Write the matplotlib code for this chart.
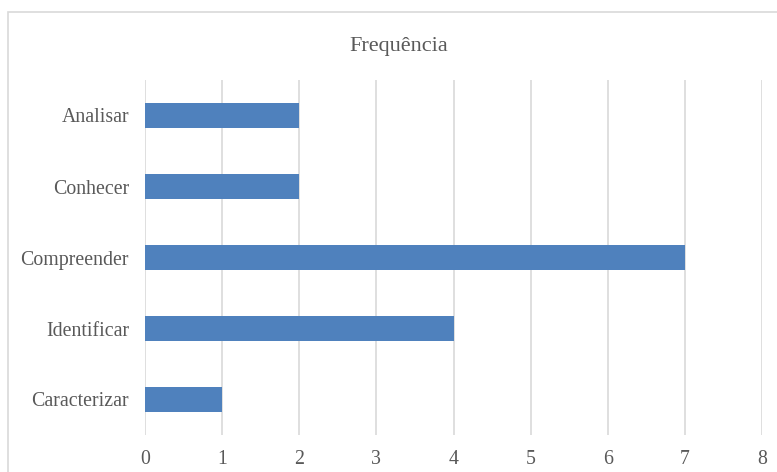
import matplotlib.pyplot as plt
from matplotlib.patches import Rectangle

categorias = ['Caracterizar', 'Identificar', 'Compreender', 'Conhecer', 'Analisar']
frequencia = [1, 4, 7, 2, 2]

plt.rcParams['font.family'] = ['Liberation Serif', 'DejaVu Serif']

W, H = 777, 472
fig = plt.figure(figsize=(W / 100, H / 100), dpi=100)
ax = fig.add_axes([145 / W, 1 - 435 / H, (762 - 145) / W, (435 - 80) / H])

ax.barh(categorias, frequencia, height=0.34, color='#4F81BD', zorder=3)
ax.set_xlim(0, 8)
ax.set_ylim(-0.5, len(categorias) - 0.5)
ax.set_xticks(range(0, 9))
ax.grid(axis='x', color='#D9D9D9', linewidth=1.2, zorder=0)
for s in ax.spines.values():
    s.set_visible(False)
ax.tick_params(length=0, labelsize=14.3, colors='#595959')
ax.tick_params(axis='y', pad=11.5)
ax.tick_params(axis='x', pad=11)

fig.text(398.5 / W, 1 - 51 / H, 'Frequência', ha='center', va='baseline',
         fontsize=16, color='#595959')

# moldura do gráfico (cortada à direita e em baixo)
fig.patches.append(Rectangle((8 / W, -0.1), 1.0, 1 - 12 / H + 0.1,
                             transform=fig.transFigure, fill=False,
                             edgecolor='#D9D9D9', linewidth=1.2))

fig.savefig('out.png', dpi=100)
